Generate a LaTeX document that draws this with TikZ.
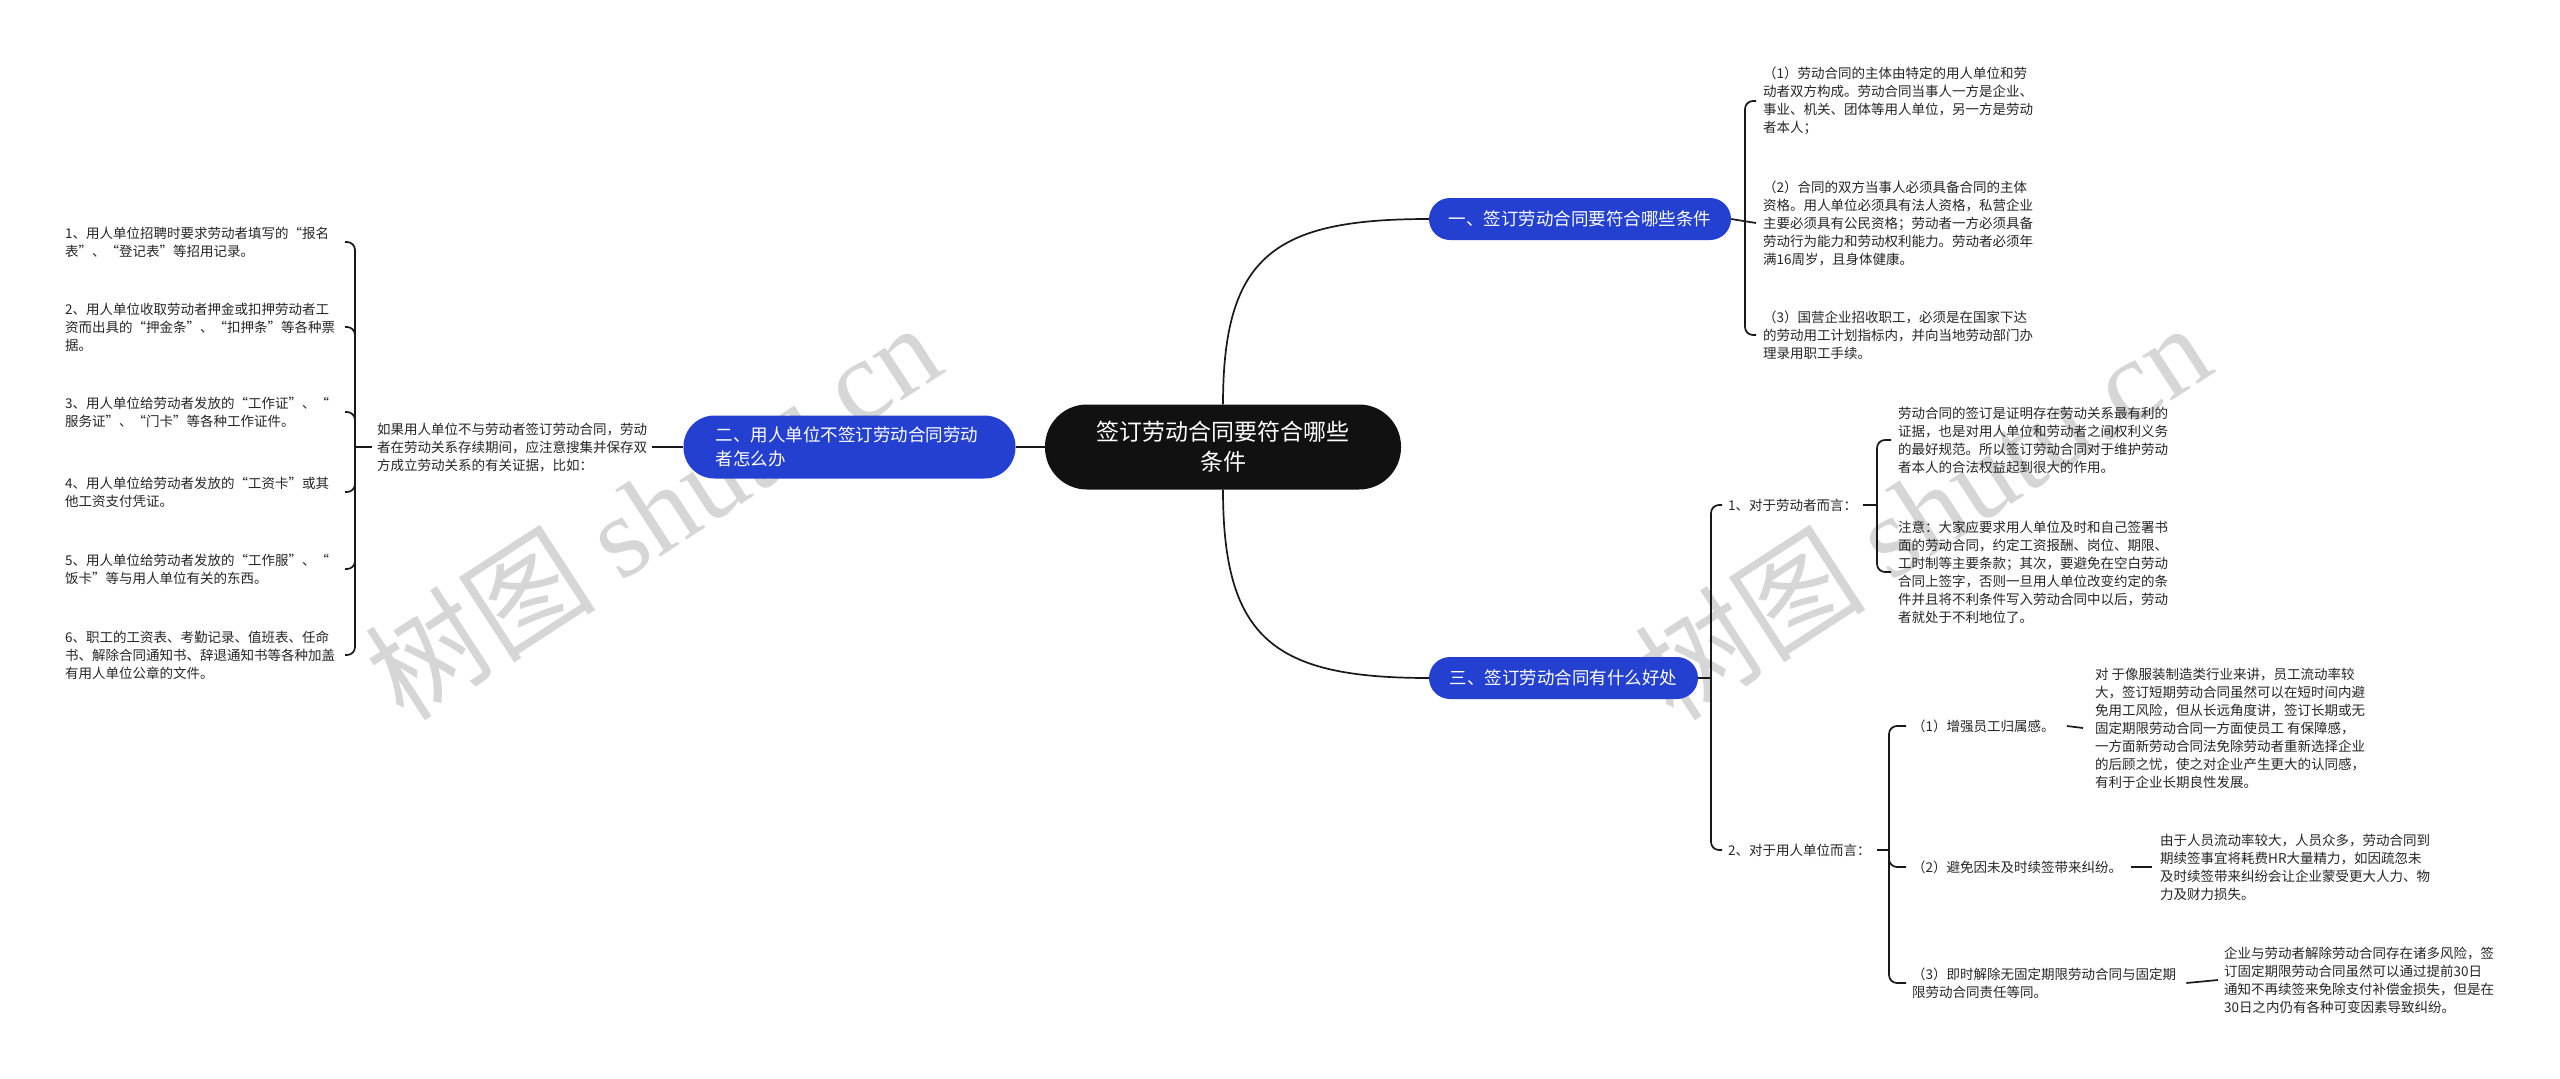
\documentclass[tikz,border=0pt]{standalone}
\usepackage{fontspec}
\setmainfont{Noto Sans CJK SC}
\newfontfamily\wmlatin{Liberation Serif}
\definecolor{bblue}{RGB}{36,64,209}
\definecolor{mainblack}{RGB}{17,17,17}
\definecolor{wmgray}{RGB}{214,214,214}
\begin{document}
\begin{tikzpicture}[x=1pt,y=-1pt]
\tikzset{
  conn/.style={line width=1.7pt, black!90},
  brk/.style={conn, rounded corners=8pt},
  txt/.style={font=\fontsize{13.5}{18}\selectfont, align=left, inner sep=0pt, text=black!85, anchor=west},
  topic/.style={fill=bblue, text=white, font=\fontsize{17.5}{24}\selectfont, inner sep=0pt, align=left},
  wm/.style={text=wmgray, rotate=33, inner sep=0pt}
}
\fill[white] (0,0) rectangle (2560,1079);
\useasboundingbox (0,0) rectangle (2560,1079);

% watermarks
\node[wm] (wm1) at (652,510) {\fontsize{116}{116}\selectfont 树图 {\wmlatin shutu.cn}};
\node[wm] (wm2) at (1922,510) {\fontsize{116}{116}\selectfont 树图 {\wmlatin shutu.cn}};

% main and topics
\node[fill=mainblack, text=white, rounded corners=42pt, minimum width=356pt, minimum height=85pt,
      font=\fontsize{23}{30}\selectfont, align=center, inner sep=0pt] (main) at (1223,447)
      {签订劳动合同要符合哪些\\条件};
\node[topic, rounded corners=21pt, minimum width=302pt, minimum height=42pt, align=center] (b1) at (1580,219)
      {一、签订劳动合同要符合哪些条件};
\node[topic, rounded corners=21pt, minimum width=269pt, minimum height=42pt, align=center] (b3) at (1563.5,678)
      {三、签订劳动合同有什么好处};
\node[topic, rounded corners=31pt, minimum height=63pt, text width=268pt, inner xsep=32pt] (b2) at (849.5,447)
      {二、用人单位不签订劳动合同劳动\\者怎么办};

% branch 1 children
\node[txt] (c11) at (1763,101) {（1）劳动合同的主体由特定的用人单位和劳\\动者双方构成。劳动合同当事人一方是企业、\\事业、机关、团体等用人单位，另一方是劳动\\者本人；};
\node[txt] (c12) at (1763,223) {（2）合同的双方当事人必须具备合同的主体\\资格。用人单位必须具有法人资格，私营企业\\主要必须具有公民资格；劳动者一方必须具备\\劳动行为能力和劳动权利能力。劳动者必须年\\满16周岁，且身体健康。};
\node[txt] (c13) at (1763,335) {（3）国营企业招收职工，必须是在国家下达\\的劳动用工计划指标内，并向当地劳动部门办\\理录用职工手续。};

% branch 3 children
\node[txt] (s1) at (1728,505) {1、对于劳动者而言：};
\node[txt] (s2) at (1728,850) {2、对于用人单位而言：};
\node[txt] (a1) at (1898,440) {劳动合同的签订是证明存在劳动关系最有利的\\证据，也是对用人单位和劳动者之间权利义务\\的最好规范。所以签订劳动合同对于维护劳动\\者本人的合法权益起到很大的作用。};
\node[txt] (a2) at (1898,572) {注意：大家应要求用人单位及时和自己签署书\\面的劳动合同，约定工资报酬、岗位、期限、\\工时制等主要条款；其次，要避免在空白劳动\\合同上签字，否则一旦用人单位改变约定的条\\件并且将不利条件写入劳动合同中以后，劳动\\者就处于不利地位了。};
\node[txt] (u1) at (1912,726) {（1）增强员工归属感。};
\node[txt] (u2) at (1912,867) {（2）避免因未及时续签带来纠纷。};
\node[txt] (u3) at (1912,983) {（3）即时解除无固定期限劳动合同与固定期\\限劳动合同责任等同。};
\node[txt] (d1) at (2095,728) {对 于像服装制造类行业来讲，员工流动率较\\大，签订短期劳动合同虽然可以在短时间内避\\免用工风险，但从长远角度讲，签订长期或无\\固定期限劳动合同一方面使员工 有保障感，\\一方面新劳动合同法免除劳动者重新选择企业\\的后顾之忧，使之对企业产生更大的认同感，\\有利于企业长期良性发展。};
\node[txt] (d2) at (2160,867) {由于人员流动率较大，人员众多，劳动合同到\\期续签事宜将耗费HR大量精力，如因疏忽未\\及时续签带来纠纷会让企业蒙受更大人力、物\\力及财力损失。};
\node[txt] (d3) at (2224,980) {企业与劳动者解除劳动合同存在诸多风险，签\\订固定期限劳动合同虽然可以通过提前30日\\通知不再续签来免除支付补偿金损失，但是在\\30日之内仍有各种可变因素导致纠纷。};

% branch 2 children
\node[txt] (t2) at (377,447) {如果用人单位不与劳动者签订劳动合同，劳动\\者在劳动关系存续期间，应注意搜集并保存双\\方成立劳动关系的有关证据，比如：};
\node[txt] (l1) at (65,242) {1、用人单位招聘时要求劳动者填写的“报名\\表”、“登记表”等招用记录。};
\node[txt] (l2) at (65,327) {2、用人单位收取劳动者押金或扣押劳动者工\\资而出具的“押金条”、“扣押条”等各种票\\据。};
\node[txt] (l3) at (65,412) {3、用人单位给劳动者发放的“工作证”、“\\服务证”、“门卡”等各种工作证件。};
\node[txt] (l4) at (65,492) {4、用人单位给劳动者发放的“工资卡”或其\\他工资支付凭证。};
\node[txt] (l5) at (65,569) {5、用人单位给劳动者发放的“工作服”、“\\饭卡”等与用人单位有关的东西。};
\node[txt] (l6) at (65,655) {6、职工的工资表、考勤记录、值班表、任命\\书、解除合同通知书、辞退通知书等各种加盖\\有用人单位公章的文件。};

% spine coordinates
\coordinate (sp1) at (1745,219);
\coordinate (sp3) at (1711,678);
\coordinate (sps1) at (1877,505);
\coordinate (sps2) at (1889,850);
\coordinate (spl) at (355,447);
\coordinate (lend) at (345,0);

% main connectors
\draw[conn] (main.north) .. controls (1223,255) and (1275,219) .. (b1.west);
\draw[conn] (main.south) .. controls (1223,640) and (1275,678) .. (b3.west);
\draw[conn] (main.west) -- (b2.east);

% branch 1
\draw[conn] (b1.east) -- ([xshift=-7pt]c12.west);
\draw[brk] (sp1) |- ([xshift=-7pt]c11.west);
\draw[brk] (sp1) |- ([xshift=-7pt]c13.west);

% branch 3
\draw[conn] (b3.east) -- (sp3);
\draw[brk] (sp3) |- ([xshift=-6pt]s1.west);
\draw[brk] (sp3) |- ([xshift=-6pt]s2.west);
\draw[conn] ([xshift=6pt]s1.east) -- (sps1);
\draw[brk] (sps1) |- ([xshift=-7pt]a1.west);
\draw[brk] (sps1) |- ([xshift=-7pt]a2.west);
\draw[conn] ([xshift=6pt]s2.east) -- (sps2);
\draw[brk] (sps2) |- ([xshift=-6pt]u1.west);
\draw[brk] (sps2) |- ([xshift=-6pt]u2.west);
\draw[brk] (sps2) |- ([xshift=-6pt]u3.west);
\draw[conn] ([xshift=12pt]u1.east) -- ([xshift=-12pt]d1.west);
\draw[conn] ([xshift=9pt]u2.east) -- ([xshift=-8pt]d2.west);
\draw[conn] ([xshift=10pt]u3.east) -- ([xshift=-6pt]d3.west);

% branch 2
\draw[conn] (b2.west) -- ([xshift=5pt]t2.east);
\draw[conn] ([xshift=-5pt]t2.west) -- (spl);
\foreach \n in {l1,l2,l3,l4,l5,l6}{
  \draw[brk] (spl) |- (\n.west -| lend);
}
\end{tikzpicture}
\end{document}
